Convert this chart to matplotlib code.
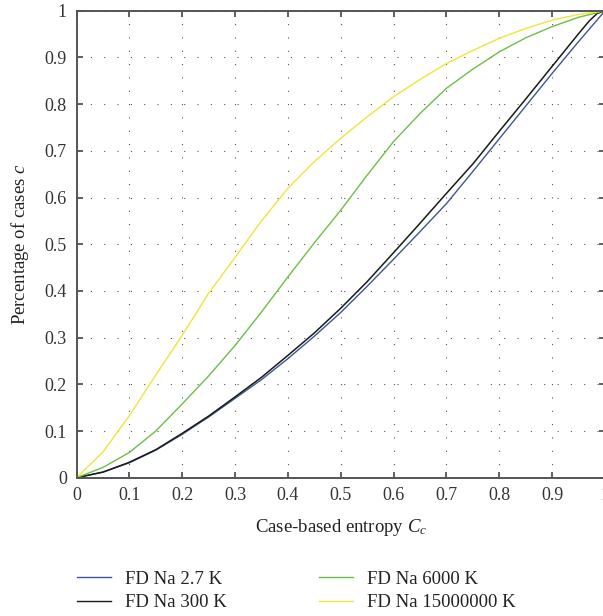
import matplotlib
matplotlib.use("Agg")
import matplotlib.pyplot as plt
from matplotlib.lines import Line2D

plt.rcParams['font.family'] = ['Liberation Serif', 'DejaVu Serif']
plt.rcParams['mathtext.fontset'] = 'custom'
plt.rcParams['mathtext.rm'] = 'Liberation Serif'
plt.rcParams['mathtext.it'] = 'Liberation Serif:italic'

# ---- data ----
x = [0.0, 0.05, 0.1, 0.15, 0.2, 0.25, 0.3, 0.35, 0.4, 0.45, 0.5,
     0.55, 0.6, 0.65, 0.7, 0.75, 0.8, 0.85, 0.9, 0.95, 1.0]

na_2_7K = [0.0, 0.012, 0.032, 0.059, 0.093, 0.130, 0.170, 0.210, 0.255, 0.303, 0.354,
           0.410, 0.468, 0.527, 0.587, 0.656, 0.726, 0.796, 0.866, 0.934, 1.0]

x_300K = [0.0, 0.05, 0.1, 0.15, 0.2, 0.25, 0.3, 0.35, 0.4, 0.45, 0.5,
          0.55, 0.6, 0.65, 0.7, 0.75, 0.8, 0.85, 0.9, 0.95, 0.97, 0.985, 1.0]
na_300K = [0.0, 0.012, 0.033, 0.060, 0.095, 0.132, 0.173, 0.215, 0.262, 0.310, 0.363,
           0.420, 0.482, 0.545, 0.609, 0.672, 0.742, 0.811, 0.881, 0.951, 0.978, 0.994, 1.0]

na_6000K = [0.0, 0.022, 0.054, 0.100, 0.158, 0.218, 0.283, 0.355, 0.430, 0.503, 0.573,
            0.648, 0.720, 0.780, 0.834, 0.875, 0.912, 0.942, 0.966, 0.986, 1.0]

na_15e6K = [0.0, 0.055, 0.133, 0.220, 0.305, 0.395, 0.472, 0.550, 0.620, 0.677, 0.727,
            0.773, 0.816, 0.853, 0.887, 0.915, 0.941, 0.962, 0.980, 0.992, 1.0]

labels = ['FD Na 2.7 K', 'FD Na 300 K', 'FD Na 6000 K', 'FD Na 15000000 K']
colors = ['#3d5694', '#1a1a1a', '#6cbf47', '#efe637']

ticks = [0, 0.1, 0.2, 0.3, 0.4, 0.5, 0.6, 0.7, 0.8, 0.9, 1]
tick_labels = ['0', '0.1', '0.2', '0.3', '0.4', '0.5', '0.6', '0.7', '0.8', '0.9', '1']

fig = plt.figure(figsize=(6.03, 6.16), dpi=100)
ax = fig.add_axes([0.1269, 0.2245, 0.8765, 0.7581])

ax.plot(x, na_2_7K, color=colors[0], lw=1.0)
ax.plot(x_300K, na_300K, color=colors[1], lw=1.1)
ax.plot(x, na_6000K, color=colors[2], lw=1.0)
ax.plot(x, na_15e6K, color=colors[3], lw=1.0)

ax.set_xlim(0, 1)
ax.set_ylim(0, 1)
ax.set_xticks(ticks)
ax.set_xticklabels(tick_labels)
ax.set_yticks(ticks)
ax.set_yticklabels(tick_labels)

ax.grid(True, color='#555555', lw=0.8, linestyle=(0, (1, 11)))
ax.tick_params(direction='in', length=4, width=1.2, color='#444444',
               top=True, right=True, labelsize=13, pad=7, colors='#333333')
ax.tick_params(axis='x', pad=7)
for s in ax.spines.values():
    s.set_color('#555555')
    s.set_linewidth(1.4)

ax.set_xlabel('Case-based entropy $C_c$', fontsize=13.5, color='#222222', labelpad=9)
ax.set_ylabel('Percentage of cases $c$', fontsize=13.5, color='#222222', labelpad=10)

h = [Line2D([], [], color=c, lw=1.0) for c in colors]
common = dict(loc='upper left', frameon=False, fontsize=13.5, handlelength=1.8,
              handletextpad=0.75, labelspacing=0.35, borderaxespad=0, borderpad=0)
leg1 = fig.legend(h[:2], labels[:2], bbox_to_anchor=(0.1277, 0.074), **common)
leg2 = fig.legend(h[2:], labels[2:], bbox_to_anchor=(0.529, 0.074), **common)
for t in leg1.get_texts() + leg2.get_texts():
    t.set_color('#222222')

fig.savefig('out.png', dpi=100)
